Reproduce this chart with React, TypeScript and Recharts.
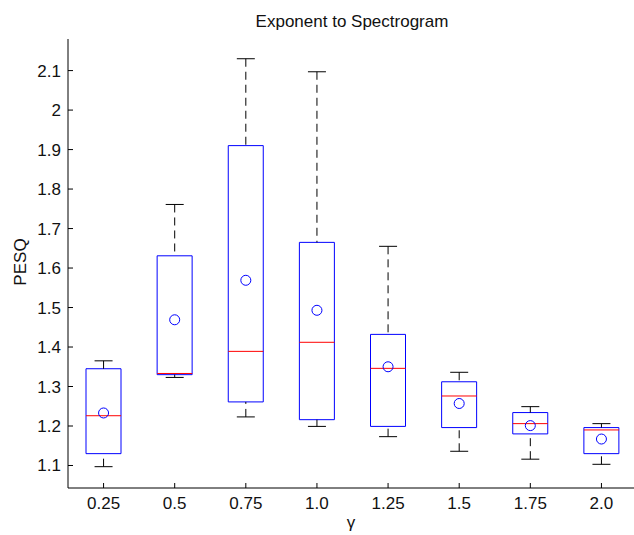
import React from 'react';
import { ComposedChart, Bar, Scatter, XAxis, YAxis, ReferenceLine } from 'recharts';

// exponent applied to the spectrogram
const categories = ['0.25', '0.5', '0.75', '1.0', '1.25', '1.5', '1.75', '2.0'];

// boxplot statistics per exponent (PESQ)
const lowerWhisker = [1.097, 1.323, 1.223, 1.199, 1.173, 1.136, 1.116, 1.103];
const lowerQuartile = [1.130, 1.330, 1.261, 1.216, 1.199, 1.196, 1.180, 1.130];
const medians = [1.226, 1.333, 1.389, 1.412, 1.346, 1.276, 1.206, 1.190];
const upperQuartile = [1.345, 1.631, 1.910, 1.665, 1.432, 1.312, 1.234, 1.196];
const upperWhisker = [1.365, 1.761, 2.130, 2.097, 1.655, 1.336, 1.249, 1.206];
const means = [1.233, 1.469, 1.569, 1.493, 1.350, 1.257, 1.201, 1.167];

const yTicks = [1.1, 1.2, 1.3, 1.4, 1.5, 1.6, 1.7, 1.8, 1.9, 2.0, 2.1];

const data = categories.map((name, i) => ({
  name,
  box: [lowerQuartile[i], upperQuartile[i]],
  q1: lowerQuartile[i],
  q3: upperQuartile[i],
  lo: lowerWhisker[i],
  hi: upperWhisker[i],
  median: medians[i],
  mean: means[i],
}));

const FONT = '"Liberation Sans", Arial, Helvetica, sans-serif';
const BOX_W = 35;
const CAP_W = 18;
const TICK = 5;

const MedianShape = (props: any) => (
  <line x1={props.cx - BOX_W / 2} x2={props.cx + BOX_W / 2} y1={props.cy} y2={props.cy} stroke="#ff0000" strokeWidth={1} />
);

const CapShape = (props: any) => (
  <line x1={props.cx - CAP_W / 2} x2={props.cx + CAP_W / 2} y1={props.cy} y2={props.cy} stroke="#000" strokeWidth={1} />
);

const MeanShape = (props: any) => (
  <circle cx={props.cx} cy={props.cy} r={5} fill="none" stroke="#0000ff" strokeWidth={1} />
);

const BottomTick = (props: any) => {
  const { x, y, payload } = props;
  return (
    <g>
      <line x1={x} x2={x} y1={y} y2={y - TICK} stroke="#000" />
      <text x={x} y={y + 21} textAnchor="middle" fontSize={17} fontFamily={FONT} fill="#111">
        {payload.value}
      </text>
    </g>
  );
};

const TopTick = (props: any) => (
  <line x1={props.x} x2={props.x} y1={props.y} y2={props.y + TICK} stroke="#000" />
);

const LeftTick = (props: any) => {
  const { x, y, payload } = props;
  return (
    <g>
      <line x1={x} x2={x + TICK} y1={y} y2={y} stroke="#000" />
      <text x={x - 7} y={y + 6} textAnchor="end" fontSize={17} fontFamily={FONT} fill="#111">
        {String(payload.value === 2 ? '2' : payload.value)}
      </text>
    </g>
  );
};

const RightTick = (props: any) => (
  <line x1={props.x} x2={props.x - TICK} y1={props.y} y2={props.y} stroke="#000" />
);

export default function App() {
  return (
    <div style={{ position: 'fixed', left: 0, top: 0, width: 634, height: 535, overflow: 'hidden', background: '#fff' }}>
      <ComposedChart width={645} height={535} data={data} margin={{ top: 39, right: 8, bottom: 0, left: 0 }}>
        <XAxis
          dataKey="name"
          type="category"
          height={47}
          interval={0}
          tickSize={0}
          tickMargin={0}
          tick={<BottomTick />}
          axisLine={{ stroke: '#000' }}
          tickLine={false}
        />
        <XAxis
          xAxisId="top"
          dataKey="name"
          type="category"
          orientation="top"
          height={0}
          interval={0}
          tickSize={0}
          tickMargin={0}
          tick={<TopTick />}
          axisLine={{ stroke: '#000' }}
          tickLine={false}
        />
        <YAxis
          type="number"
          domain={[1.043, 2.18]}
          allowDataOverflow
          ticks={yTicks}
          interval={0}
          width={68}
          tickSize={0}
          tickMargin={0}
          tick={<LeftTick />}
          axisLine={{ stroke: '#000' }}
          tickLine={false}
        />
        <YAxis
          yAxisId="right"
          orientation="right"
          type="number"
          domain={[1.043, 2.18]}
          allowDataOverflow
          ticks={yTicks}
          interval={0}
          width={0}
          tickSize={0}
          tickMargin={0}
          tick={<RightTick />}
          axisLine={{ stroke: '#000' }}
          tickLine={false}
        />
        {data.map((d) => (
          <ReferenceLine
            key={'up-' + d.name}
            segment={[{ x: d.name, y: d.hi }, { x: d.name, y: d.q3 }]}
            stroke="#000"
            strokeDasharray="8 5"
            ifOverflow="visible"
          />
        ))}
        {data.map((d) => (
          <ReferenceLine
            key={'lo-' + d.name}
            segment={[{ x: d.name, y: d.lo }, { x: d.name, y: d.q1 }]}
            stroke="#000"
            strokeDasharray="8 5"
            ifOverflow="visible"
          />
        ))}
        <Bar dataKey="box" barSize={BOX_W} fill="none" stroke="#0000ff" strokeWidth={1} isAnimationActive={false} />
        <Scatter dataKey="hi" shape={CapShape} isAnimationActive={false} />
        <Scatter dataKey="lo" shape={CapShape} isAnimationActive={false} />
        <Scatter dataKey="median" shape={MedianShape} isAnimationActive={false} />
        <Scatter dataKey="mean" shape={MeanShape} isAnimationActive={false} />
      </ComposedChart>
      <svg width={634} height={535} style={{ position: 'absolute', left: 0, top: 0, pointerEvents: 'none' }}>
        <text x={352} y={27} textAnchor="middle" fontSize={17} fontFamily={FONT} fill="#111">
          Exponent to Spectrogram
        </text>
        <text
          x={26}
          y={262}
          textAnchor="middle"
          fontSize={17}
          fontFamily={FONT}
          fill="#111"
          transform="rotate(-90 26 262)"
        >
          PESQ
        </text>
        <text x={351} y={528} textAnchor="middle" fontSize={17} fontFamily={FONT} fill="#111">
          γ
        </text>
      </svg>
    </div>
  );
}
